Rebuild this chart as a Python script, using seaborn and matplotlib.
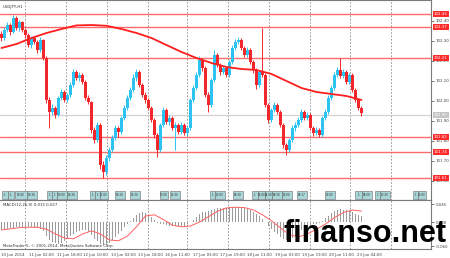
import numpy as np
import matplotlib
matplotlib.use("Agg")
import matplotlib.pyplot as plt
import matplotlib.transforms as mtransforms
from matplotlib.patches import Rectangle
import seaborn as sns

symbol_label = "USDJPY,H1"
macd_label = "MACD(12,26,9) 0.015 0.027"
copyright_label = "MetaTrader 5, \u00a9 2001-2014, MetaQuotes Software Corp."
watermark = "finanso.net"

first_open = 102.335
closes = [102.315,102.355,102.380,102.345,102.415,102.365,102.395,102.355,102.330,102.280,
          102.315,102.295,102.255,102.305,102.215,102.005,101.945,101.965,101.930,102.015,
          102.045,102.005,102.030,102.080,102.145,102.115,102.130,102.095,102.015,101.995,
          101.855,101.805,101.880,101.680,101.645,101.715,101.755,101.815,101.865,101.845,
          101.915,101.965,102.015,102.055,102.115,102.145,102.080,102.030,102.005,101.965,
          101.905,101.830,101.755,101.880,101.955,101.895,101.915,101.865,101.880,101.845,
          101.880,101.840,101.865,102.005,102.065,102.130,102.205,102.165,102.030,101.980,
          102.105,102.230,102.180,102.145,102.165,102.130,102.195,102.265,102.295,102.305,
          102.265,102.230,102.255,102.195,102.155,102.080,102.145,102.130,101.980,101.905,
          101.955,101.980,101.945,101.880,101.780,101.755,101.805,101.865,101.880,101.905,
          101.945,101.915,101.930,101.865,101.840,101.855,101.830,101.915,101.945,102.015,
          102.065,102.130,102.155,102.125,102.145,102.095,102.130,102.055,102.005,101.965,
          101.940]
highs = [102.350,102.370,102.395,102.390,102.430,102.425,102.405,102.400,102.365,102.340,
         102.325,102.320,102.305,102.320,102.310,102.225,102.020,101.985,101.975,102.025,
         102.060,102.055,102.040,102.095,102.160,102.155,102.145,102.140,102.105,102.030,
         102.000,101.870,101.895,101.890,101.700,101.730,101.770,101.830,101.880,101.875,
         101.925,101.980,102.030,102.070,102.135,102.160,102.155,102.090,102.045,102.015,
         101.975,101.915,101.840,101.890,101.970,101.965,101.930,101.925,101.895,101.890,
         101.895,101.890,101.875,102.015,102.080,102.145,102.225,102.215,102.175,102.045,
         102.115,102.255,102.240,102.190,102.180,102.175,102.205,102.280,102.310,102.320,
         102.315,102.275,102.270,102.265,102.205,102.165,102.155,102.365,102.140,101.990,
         101.965,101.995,101.990,101.955,101.890,101.790,101.815,101.880,101.895,101.920,
         101.960,101.955,101.945,101.940,101.875,101.870,101.865,101.925,101.960,102.030,
         102.080,102.145,102.170,102.215,102.160,102.155,102.140,102.140,102.065,102.015,
         101.975]
lows = [102.300,102.305,102.345,102.330,102.340,102.355,102.350,102.345,102.315,102.270,
        102.265,102.285,102.240,102.245,102.205,101.990,101.865,101.930,101.915,101.925,
        102.005,101.995,101.995,102.020,102.070,102.105,102.100,102.085,102.005,101.985,
        101.840,101.790,101.795,101.660,101.615,101.630,101.700,101.745,101.805,101.820,
        101.835,101.905,101.955,102.005,102.045,102.100,102.070,102.020,101.990,101.955,
        101.895,101.815,101.720,101.745,101.870,101.885,101.880,101.855,101.755,101.835,
        101.835,101.830,101.825,101.855,101.995,102.055,102.120,102.150,102.020,101.945,
        101.970,102.095,102.170,102.130,102.135,102.120,102.120,102.185,102.255,102.285,
        102.255,102.220,102.220,102.185,102.140,102.060,102.070,102.120,101.970,101.890,
        101.895,101.945,101.935,101.870,101.765,101.730,101.745,101.795,101.850,101.870,
        101.895,101.905,101.905,101.855,101.825,101.830,101.820,101.820,101.905,101.935,
        102.005,102.055,102.120,102.115,102.115,102.085,102.085,102.045,101.995,101.955,
        101.925]

ma_idx = list(range(0, 121, 5))
ma_vals = [102.265,102.285,102.315,102.340,102.360,102.378,102.380,102.376,102.360,102.340,
           102.315,102.280,102.245,102.215,102.190,102.170,102.160,102.155,102.135,102.100,
           102.065,102.045,102.035,102.025,102.005]

macd_vals = [-0.020,-0.019,-0.017,-0.016,-0.014,-0.013,-0.013,-0.012,-0.012,-0.013,
             -0.013,-0.014,-0.016,-0.017,-0.022,-0.035,-0.044,-0.049,-0.053,-0.054,
             -0.052,-0.048,-0.042,-0.036,-0.030,-0.026,-0.022,-0.020,-0.021,-0.024,
             -0.033,-0.042,-0.047,-0.055,-0.058,-0.057,-0.053,-0.046,-0.038,-0.031,
             -0.022,-0.013,-0.005,0.003,0.011,0.018,0.022,0.024,0.023,0.019,
             0.013,0.006,-0.002,-0.005,-0.006,-0.008,-0.009,-0.010,-0.011,-0.011,
             -0.010,-0.009,-0.006,-0.001,0.005,0.012,0.019,0.024,0.026,0.027,
             0.029,0.032,0.034,0.035,0.036,0.036,0.037,0.038,0.038,0.037,
             0.036,0.034,0.032,0.029,0.025,0.019,0.014,0.008,0.000,-0.010,
             -0.018,-0.024,-0.029,-0.038,-0.042,-0.044,-0.043,-0.040,-0.035,-0.028,
             -0.021,-0.015,-0.011,-0.008,-0.006,-0.004,-0.002,0.003,0.009,0.016,
             0.022,0.027,0.030,0.032,0.031,0.029,0.027,0.024,0.020,0.017,
             0.015]
signal_idx = list(range(0, 121, 3))
signal_vals = [-0.020,-0.017,-0.014,-0.013,-0.013,-0.018,-0.030,-0.040,-0.042,-0.030,
               -0.022,-0.030,-0.045,-0.047,-0.035,-0.012,0.015,0.018,0.006,-0.008,
               -0.012,-0.010,0.000,0.013,0.027,0.035,0.037,0.036,0.030,0.018,
               0.003,-0.015,-0.032,-0.037,-0.030,-0.018,-0.005,0.011,0.024,0.030,
               0.027]

level_prices = [102.435, 102.370, 102.215, 101.820, 101.745, 101.615]
level_labels = ["102.43", "102.37", "102.21", "101.82", "101.74", "101.61"]
last_price = 101.930
last_label = "101.93"

price_ticks = [102.40, 102.30, 102.20, 102.10, 102.00, 101.90, 101.80, 101.70, 101.60]
price_tick_labels = ["102.40", "102.30", "102.20", "102.10", "102.00",
                     "101.90", "101.80", "101.70", "101.60"]
macd_ticks = [0.045, 0.0, -0.060]
macd_tick_labels = ["0.045", "0.000", "-0.060"]

day_breaks = [7.83, 21.5, 35.17, 48.83, 61.83, 75.5, 89.17, 102.83, 116.17, 129.83]
time_label_idx = [-0.17, 9.17, 18.5, 27.17, 36.5, 45.5, 54.5, 63.83, 72.83,
                  81.83, 91.17, 100.17, 109.17, 118.5]
time_labels = ["10 Jun 2014", "11 Jun 02:00", "11 Jun 18:00", "12 Jun 10:00",
               "13 Jun 02:00", "13 Jun 18:00", "16 Jun 11:00", "17 Jun 03:00",
               "17 Jun 19:00", "18 Jun 11:00", "19 Jun 03:00", "19 Jun 19:00",
               "20 Jun 11:00", "23 Jun 04:00"]

event_start = [0.17, 2.17, 4.5, 8.5, 15.17, 16.83, 18.5, 21.83, 29.5, 31.17, 32.83,
               37.83, 42.83, 52.83, 56.17, 69.5, 71.17, 77.17, 83.5, 85.5, 87.83,
               90.17, 93.5, 98.5, 107.83, 117.83, 120.17, 124.5, 126.17, 137.17, 138.83]
event_width = [2.0, 2.0, 4.0, 3.3, 1.7, 1.7, 3.3, 3.3, 1.7, 1.7, 2.7,
               3.3, 3.3, 2.7, 3.3, 1.7, 3.3, 3.3, 2.0, 2.3, 2.3,
               3.3, 3.3, 3.3, 3.3, 2.3, 3.3, 1.7, 3.3, 1.7, 2.7]
event_text = ["1", "1", "19:00", "16:30", "1", "1", "19:00", "16:30", "1", "1", "11:00",
              "06:30", "15:30", "07:00", "12:30", "1", "13:00", "08:30", "1", "06:00", "14:00",
              "08:30", "15:00", "08:17", "07:00", "1", "08:00", "1", "13:30", "1", "13:00"]

UP = "#2CC3F2"
DN = "#F2262B"
LEVEL = "#FF6A6A"
FS = 2.8

sns.set_style("white")
plt.rcParams["font.family"] = ["DejaVu Sans"]

fig = plt.figure(figsize=(4.5, 2.58), dpi=100)
W, H = 450.0, 258.0
ax = fig.add_axes([0, 1 - 200 / H, 431 / W, 200 / H])
axm = fig.add_axes([0, 1 - 249 / H, 431 / W, 49 / H])

n = len(closes)
idx = np.arange(n)
c = np.array(closes)
o = np.array([first_open] + closes[:-1])
hi = np.array(highs)
lo = np.array(lows)
cols = np.where(c >= o, UP, DN)

xmin, xmax = -0.5, 143.17
for a in (ax, axm):
    a.set_xlim(xmin, xmax)
    for xb in day_breaks:
        a.axvline(xb, color="#8A8A8A", lw=0.6, ls=(0, (2, 2)), zorder=1)
    for s in a.spines.values():
        s.set_color("#7A7A7A")
        s.set_linewidth(0.8)
    a.spines["left"].set_visible(False)

ax.set_ylim(101.505, 102.505)
for lp in level_prices:
    ax.axhline(lp, color=LEVEL, lw=1.0, zorder=2)
ax.axhline(last_price, color="#D2D2D2", lw=0.9, zorder=2)

ax.vlines(idx, lo, hi, colors=cols, lw=0.7, zorder=3)
body = np.maximum(np.abs(c - o), 0.002)
ax.bar(idx, body, bottom=np.minimum(o, c), width=0.72, color=cols, lw=0, zorder=4)
sns.lineplot(x=ma_idx, y=ma_vals, ax=ax, color="#FF1E1E", lw=1.3, zorder=5)

ax.set_xticks([])
ax.yaxis.tick_right()
ax.set_yticks(price_ticks)
ax.set_yticklabels(price_tick_labels)
ax.tick_params(axis="y", labelsize=FS, length=2, width=0.5, pad=1.2, colors="#404040")
ax.set_xlabel("")
ax.set_ylabel("")

blend = mtransforms.blended_transform_factory(ax.transAxes, ax.transData)
for lp, lab in zip(level_prices, level_labels):
    ax.text(1.0 + 3 / 431, lp, lab, transform=blend, fontsize=FS, color="white",
            va="center", ha="left", clip_on=False, zorder=10,
            bbox=dict(boxstyle="square,pad=0.3", fc="#FF2A2A", ec="none"))
ax.text(1.0 + 3 / 431, last_price, last_label, transform=blend, fontsize=FS, color="white",
        va="center", ha="left", clip_on=False, zorder=10,
        bbox=dict(boxstyle="square,pad=0.3", fc="#C4C4C4", ec="none"))

ax.text(0.007, 0.975, symbol_label, transform=ax.transAxes, fontsize=FS,
        color="#303030", va="top", ha="left")

eblend = mtransforms.blended_transform_factory(ax.transData, ax.transAxes)
for es, ew, et in zip(event_start, event_width, event_text):
    ax.add_patch(Rectangle((es, 0.006), ew, 0.04, transform=eblend, fc="#A9D6D8",
                           ec="#6A6A6A", lw=0.4, zorder=6))
    ax.text(es + ew / 2, 0.026, et, transform=eblend, fontsize=2.0, color="#303030",
            ha="center", va="center", zorder=7)

axm.set_ylim(-0.0675, 0.055)
axm.bar(idx, macd_vals, width=0.45, color="#9C9C9C", lw=0, zorder=3)
sns.lineplot(x=signal_idx, y=signal_vals, ax=axm, color="#FF6060", lw=0.7, zorder=4)
axm.yaxis.tick_right()
axm.set_yticks(macd_ticks)
axm.set_yticklabels(macd_tick_labels)
axm.tick_params(axis="y", labelsize=FS, length=2, width=0.5, pad=1.2, colors="#404040")
axm.set_xticks(time_label_idx)
axm.set_xticklabels(time_labels, ha="left")
axm.tick_params(axis="x", labelsize=FS, length=2, width=0.5, pad=1.0, colors="#404040")
axm.set_xlabel("")
axm.set_ylabel("")
axm.text(0.007, 0.93, macd_label, transform=axm.transAxes, fontsize=FS,
         color="#303030", va="top", ha="left")
axm.text(0.007, 0.03, copyright_label, transform=axm.transAxes, fontsize=FS,
         color="#303030", va="bottom", ha="left")

fig.text(283 / W, 1 - 242 / H, watermark, fontsize=22, fontweight="bold",
         family="Liberation Sans", color="black", ha="left", va="baseline", zorder=20)

fig.savefig("out.png", dpi=100)
